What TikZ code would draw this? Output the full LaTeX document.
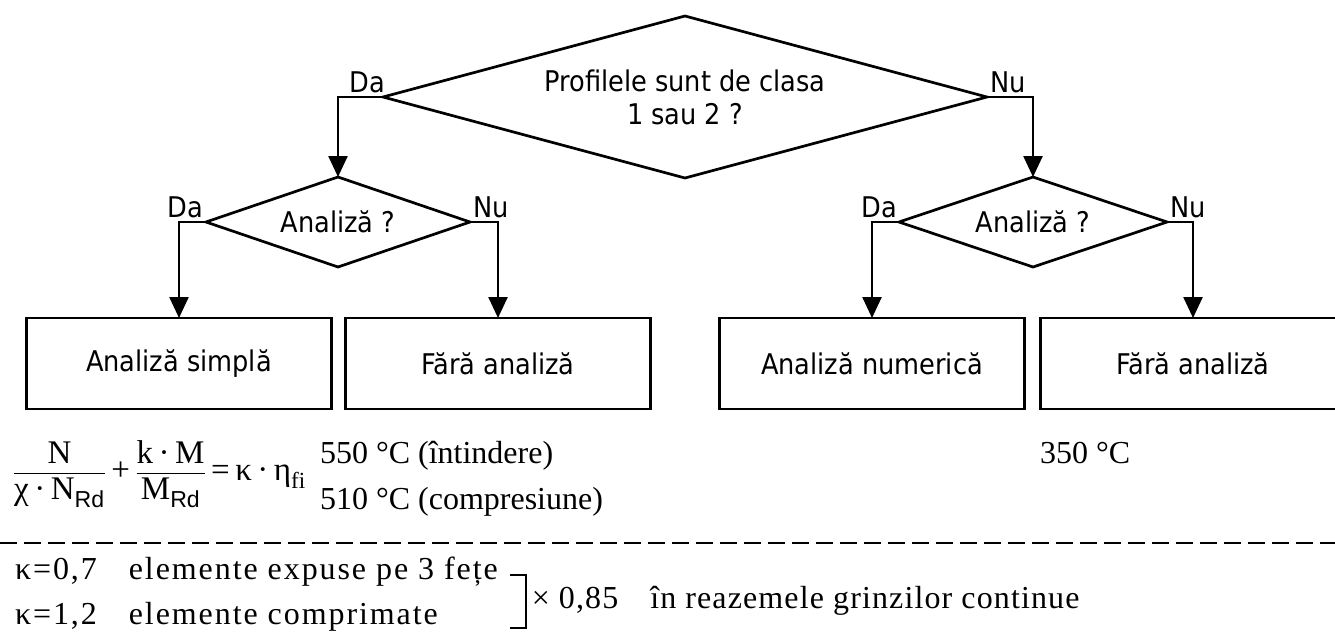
\documentclass[tikz,border=0pt]{standalone}
\usepackage{amsmath}
\usepackage{fontspec}
\setmainfont{Liberation Serif}
\setsansfont{Liberation Sans}
\newfontfamily\flowfont{DejaVu Sans Condensed}
\newfontfamily\notefont[LetterSpace=6]{Liberation Serif}
\newfontfamily\factorfont[LetterSpace=3.5]{Liberation Serif}
\usetikzlibrary{shapes.geometric,arrows.meta}

\begin{document}
\begin{tikzpicture}[x=1pt,y=-1pt,
  every node/.style={inner sep=0pt,outer sep=0pt},
  line/.style={line width=2.5pt},
  flow/.style={font=\flowfont\fontsize{28.5}{33}\selectfont},
  choice/.style={flow, draw, line width=2.7pt, shape=diamond, align=center, line join=miter},
  result/.style={flow, draw, line width=2.3pt, shape=rectangle, minimum width=305pt, minimum height=91pt},
  lab/.style={flow},
  arr/.style={line, -{Triangle[length=21pt,width=19pt]}},
  serif/.style={font=\fontsize{32}{38}\selectfont},
]
\useasboundingbox (0,0) rectangle (1335,638);
\clip (0,0) rectangle (1335,638);

% decisions
\node[choice, aspect=3.7, minimum width=604pt, minimum height=162pt] (cls) at (685,97) {Profilele sunt de clasa\\1 sau 2 ?};
\node[choice, aspect=3, minimum width=264pt, minimum height=90pt] (anL) at (338,222) {Analiză ?};
\node[choice, aspect=3, minimum width=268pt, minimum height=90pt] (anR) at (1033,222) {Analiză ?};

% outcomes
\node[result] (simp) at (179,363.5) {Analiză simplă};
\node[result] (noL) at (498,363.5) {Fără analiză};
\node[result] (num) at (872,363.5) {Analiză numerică};
\node[result] (noR) at (1193,363.5) {Fără analiză};

% branches
\draw[arr] (cls.west) -| (anL.north);
\draw[arr] (cls.east) -| (anR.north);
\draw[arr] (anL.west) -| (simp.north);
\draw[arr] (anL.east) -| (noL.north);
\draw[arr] (anR.west) -| (num.north);
\draw[arr] (anR.east) -| (noR.north);

% branch labels
\node[lab, anchor=south east] (daTop) at ([xshift=2pt,yshift=4pt]cls.west) {Da};
\node[lab, anchor=south west] (nuTop) at ([xshift=3pt,yshift=4pt]cls.east) {Nu};
\node[lab, anchor=south east] (daL) at ([xshift=-3pt,yshift=4pt]anL.west) {Da};
\node[lab, anchor=south west] (nuL) at ([xshift=3pt,yshift=4pt]anL.east) {Nu};
\node[lab, anchor=south east] (daR) at ([xshift=-2pt,yshift=4pt]anR.west) {Da};
\node[lab, anchor=south west] (nuR) at ([xshift=3pt,yshift=4pt]anR.east) {Nu};

% check formula and critical temperatures
\node[font=\fontsize{33}{40}\selectfont, anchor=west] (eq) at (13,474)
  {$\dfrac{\text{N}}{\text{χ\,·\,N}_{\text{\sffamily Rd}}}\text{\,+\,}\dfrac{\text{k\,·\,M}}{\text{M}_{\text{\sffamily Rd}}}\text{\,=\,κ\,·\,η}_{\text{fi}}$};
\node[serif, anchor=base west] (t1) at (320,463) {550 °C (întindere)};
\node[serif, anchor=base west] (t2) at (320,509) {510 °C (compresiune)};
\node[serif, anchor=base west] (t3) at (1040,463) {350 °C};

% separator
\draw[line width=2pt, dash pattern=on 17pt off 7pt] (0,543) -- (1335,543);

% factors
\node[serif, anchor=base west] (k1) at (15,579) {\notefont κ=0,7\quad elemente expuse pe 3 fețe};
\node[serif, anchor=base west] (k2) at (15,624) {\notefont κ=1,2\quad elemente comprimate};
\path (k1.east) ++(12,0) coordinate (b0) ++(16,0) coordinate (b1);
\draw[line width=2pt] (b0 |- 0,575) -- (b1 |- 0,575) -- (b1 |- 0,628) -- (b0 |- 0,628);
\node[serif, anchor=west] (fac) at ([xshift=6pt]b1 |- 0,601) {\factorfont × 0,85\quad în reazemele grinzilor continue};
\end{tikzpicture}
\end{document}
